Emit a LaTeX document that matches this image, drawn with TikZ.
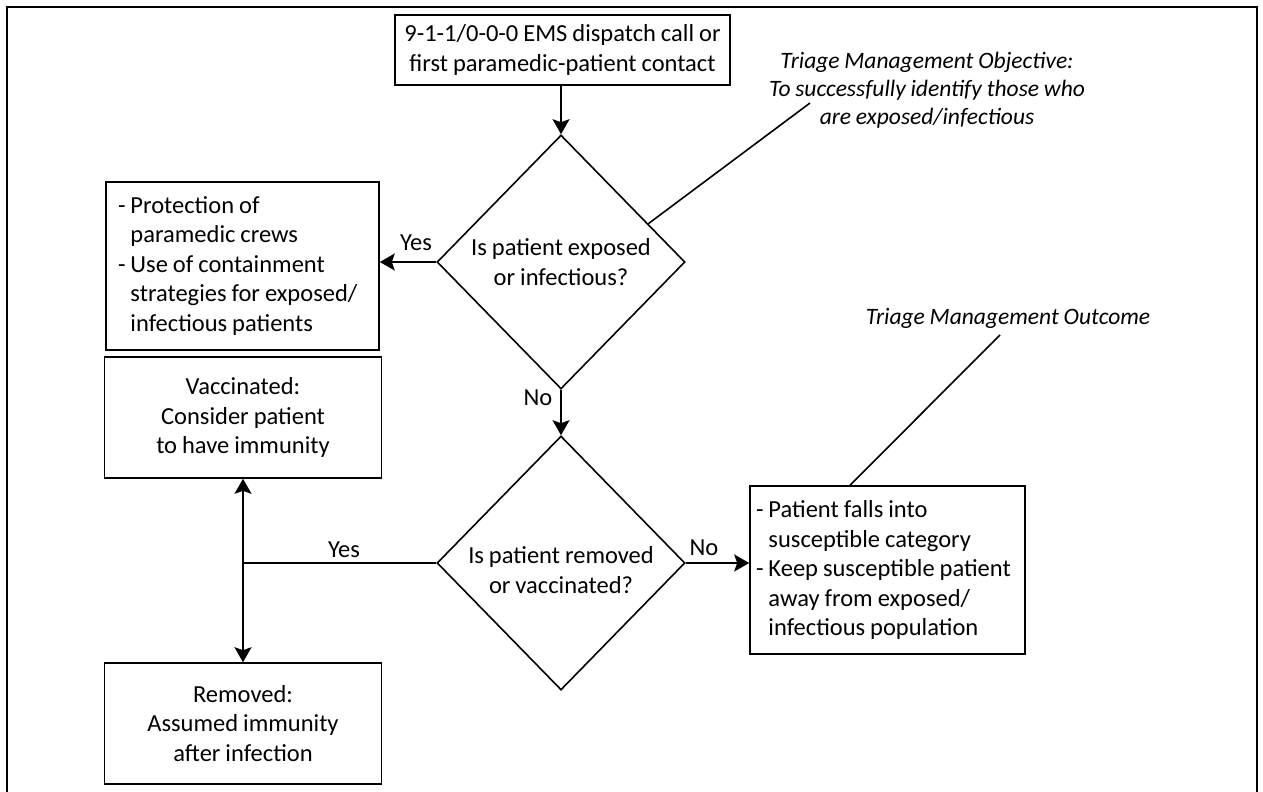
\documentclass[tikz,border=0pt]{standalone}
\usepackage{fontspec}
\setmainfont[WordSpace=0.9]{Carlito}
\usetikzlibrary{shapes.geometric,arrows.meta,calc}
\begin{document}
\begin{tikzpicture}[x=1pt,y=-1pt,
  every node/.style={font=\fontsize{24.5}{29.5}\selectfont},
  ln/.style={line width=1.6pt},
  box/.style={draw, line width=1.6pt, inner sep=0pt},
  dia/.style={draw, diamond, line width=1.6pt, inner sep=0pt, align=center},
  arr/.style={line width=1.6pt, -{Stealth[length=15pt,width=17pt,inset=3pt]}},
  darr/.style={line width=1.6pt, {Stealth[length=15pt,width=17pt,inset=3pt]}-{Stealth[length=15pt,width=17pt,inset=3pt]}},
  lbl/.style={inner sep=0pt},
  note/.style={font=\fontsize{23.5}{28}\selectfont\itshape, align=center, inner sep=0pt}
]
\useasboundingbox (0,0) rectangle (1263,792);
\draw[ln] (7,800) -- (7,7) -- (1257,7) -- (1257,800);

\node[box, minimum width=335pt, minimum height=70pt, align=center] (start) at (562.5,50)
  {9-1-1/0-0-0 EMS dispatch call or\\first paramedic-patient contact};
\node[dia, minimum width=248pt, minimum height=254pt] (d1) at (561,262)
  {Is patient exposed\\or infectious?};
\node[dia, minimum width=248pt, minimum height=254pt] (d2) at (561,563)
  {\\[2pt]Is patient removed\\or vaccinated?};
\node[box, align=flush left, text width=249pt, inner xsep=12pt, minimum height=168pt] (prot) at (242.5,266)
  {- Protection of\\\hphantom{- }paramedic crews\\- Use of containment\\\hphantom{- }strategies for exposed/\\\hphantom{- }infectious patients};
\node[box, minimum width=277pt, minimum height=121pt, align=center] (vacc) at (243,417.5)
  {Vaccinated:\\Consider patient\\to have immunity};
\node[box, minimum width=277pt, minimum height=121pt, align=center] (rem) at (243,723.5)
  {Removed:\\Assumed immunity\\after infection};
\node[box, align=flush left, text width=263pt, inner xsep=6pt, minimum height=168pt] (susc) at (887.5,570)
  {- Patient falls into\\\hphantom{- }susceptible category\\- Keep susceptible patient\\\hphantom{- }away from exposed/\\\hphantom{- }infectious population};

\node[note] (obj) at (927,90)
  {Triage Management Objective:\\To successfully identify those who\\are exposed/infectious};
\node[note] (out) at (1008,318) {Triage Management Outcome};

\node[lbl] (yes1) at (416,243) {Yes};
\node[lbl] (no1) at (538,398) {No};
\node[lbl] (no2) at (704,548) {No};
\node[lbl] (yes2) at (344,550) {Yes};

\coordinate (j) at (243,563);
\coordinate (objend) at (810,103);
\coordinate (outend) at (1000,335);

\draw[arr] (d1.north |- start.south) -- (d1.north);
\draw[arr] (d1.west) -- (d1.west -| prot.east);
\draw[arr] (d1.south) -- (d2.north);
\draw[arr] (d2.east) -- (d2.east -| susc.west);
\draw[ln] (d2.west) -- (j);
\draw[darr] (vacc.south -| j) -- (rem.north -| j);
\draw[ln] ($(d1.north)!0.7!(d1.east)$) -- (objend);
\draw[ln] (susc.north -| 850,0) -- (outend);
\end{tikzpicture}
\end{document}
